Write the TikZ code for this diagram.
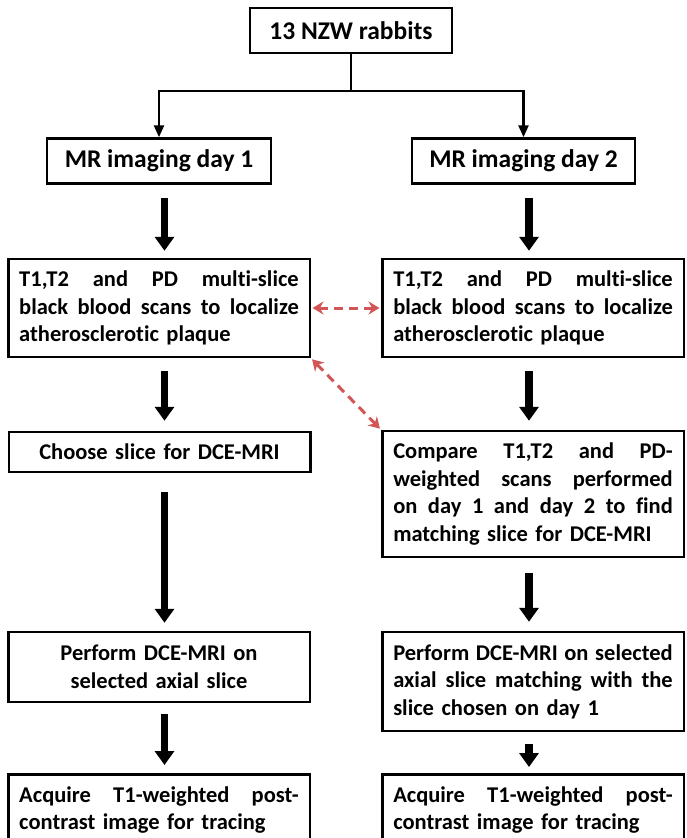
\documentclass[tikz,border=0pt]{standalone}
\usepackage{fontspec}
\setmainfont{Carlito}[Ligatures={NoCommon,NoContextual},RawFeature={-liga;-clig;-calt}]
\usetikzlibrary{arrows.meta,positioning,calc}
\definecolor{linkred}{HTML}{D25656}
\newlength{\stepwd}
\setlength{\stepwd}{279.5pt}
% a line set to the full width, words kept apart by \hfill
\newcommand{\spreadline}[1]{\makebox[\stepwd][l]{#1}}
\tikzset{
  stepbox/.style={draw,line width=2.5pt,inner xsep=11pt,text width=\stepwd,
    font=\bfseries\fontsize{22.5}{27.5}\selectfont},
  daybox/.style={draw,line width=2.5pt,minimum height=45pt,
    font=\bfseries\fontsize{25.5}{30}\selectfont},
  bigarrow/.style={line width=7.5pt,-{Triangle[width=19pt,length=14pt]}},
  branch/.style={line width=2.5pt,-{Triangle[width=10pt,length=12pt]}},
  link/.style={linkred,line width=3pt,dash pattern=on 9pt off 6pt,
    shorten <=1.5pt,shorten >=1.5pt,
    {Stealth[width=13pt,length=11pt]}-{Stealth[width=13pt,length=11pt]}}
}
\begin{document}
\begin{tikzpicture}[x=1pt,y=-1pt]
  \clip (0,0) rectangle (687,838);
  \fill[white] (0,0) rectangle (687,838);

  % start and the two imaging days
  \node[daybox,minimum width=202pt] (rabbits) at (351,30.5) {13 NZW rabbits};
  \node[daybox,minimum width=224pt] (day1) at (159,161) {MR imaging day 1};
  \node[daybox,minimum width=223pt] (day2) at (523.5,161) {MR imaging day 2};

  % day 1 column
  \node[stepbox,align=left,minimum height=98pt] (scan1) at (159,308)
    {\spreadline{T1,T2\hfill and\hfill PD\hfill multi-slice}\\
     \spreadline{black\hfill blood\hfill scans\hfill to\hfill localize}\\
     atherosclerotic plaque};
  \node[stepbox,align=center,minimum height=40pt] (choose) at (159.5,452)
    {Choose slice for DCE-MRI};
  \node[stepbox,align=center,minimum height=70pt] (dce1) at (159,667)
    {Perform DCE-MRI on\\selected axial slice};
  \node[stepbox,align=left,anchor=north,inner ysep=12pt] (post1) at (159,773)
    {\spreadline{Acquire\hfill T1-weighted\hfill post-}\\
     contrast image for tracing};

  % day 2 column
  \node[stepbox,align=left,minimum height=98pt] (scan2) at (533,308)
    {\spreadline{T1,T2\hfill and\hfill PD\hfill multi-slice}\\
     \spreadline{black\hfill blood\hfill scans\hfill to\hfill localize}\\
     atherosclerotic plaque};
  \node[stepbox,align=left,minimum height=126pt] (compare) at (533,494)
    {\spreadline{Compare\hfill T1,T2\hfill and\hfill PD-}\\
     \spreadline{weighted\hfill scans\hfill performed}\\
     \spreadline{on\hfill day\hfill 1\hfill and\hfill day\hfill 2\hfill to\hfill find}\\
     matching slice for DCE-MRI};
  \node[stepbox,align=left,minimum height=99pt] (dce2) at (533,681.5)
    {\spreadline{Perform\hfill DCE-MRI\hfill on\hfill selected}\\
     \spreadline{axial\hfill slice\hfill matching\hfill with\hfill the}\\
     slice chosen on day 1};
  \node[stepbox,align=left,anchor=north,inner ysep=12pt] (post2) at (533,773)
    {\spreadline{Acquire\hfill T1-weighted\hfill post-}\\
     contrast image for tracing};

  % split into two days
  \coordinate (split) at (351,91);
  \draw[line width=2.5pt] (rabbits.south) -- (split);
  \draw[branch] (split) -| (day1.north);
  \draw[branch] (split) -| (day2.north);

  % flow arrows
  \draw[bigarrow,shorten <=13pt,shorten >=7pt] ([xshift=5.5pt]day1.south) -- ([xshift=5.5pt]day1.south |- scan1.north);
  \draw[bigarrow,shorten <=13pt,shorten >=10pt] ([xshift=5.5pt]scan1.south) -- ([xshift=5.5pt]scan1.south |- choose.north);
  \draw[bigarrow,shorten <=19pt,shorten >=8pt] ([xshift=5.5pt]scan1.south |- choose.south) -- ([xshift=5.5pt]scan1.south |- dce1.north);
  \draw[bigarrow,shorten <=11pt,shorten >=8pt] ([xshift=5.5pt]dce1.south) -- ([xshift=5.5pt]dce1.south |- post1.north);
  \draw[bigarrow,shorten <=13pt,shorten >=7pt] ([xshift=5.5pt]day2.south) -- ([xshift=5.5pt]day2.south |- scan2.north);
  \draw[bigarrow,shorten <=13pt,shorten >=9pt] ([xshift=-4pt]scan2.south) -- ([xshift=-4pt]compare.north);
  \draw[bigarrow,shorten <=15pt,shorten >=9pt] ([xshift=-4pt]compare.south) -- ([xshift=-4pt]dce2.north);
  \draw[bigarrow,shorten <=12pt,shorten >=6pt] ([xshift=-4pt]dce2.south) -- ([xshift=-4pt]post2.north);

  % matching between days
  \draw[link] (scan1.east) -- (scan2.west);
  \draw[link] (scan1.south east) -- (compare.north west);
\end{tikzpicture}
\end{document}
